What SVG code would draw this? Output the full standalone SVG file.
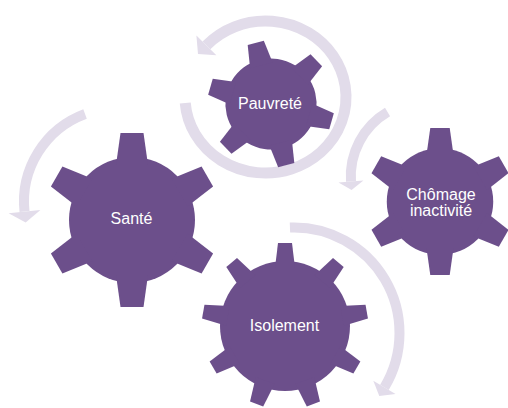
<svg xmlns="http://www.w3.org/2000/svg" xmlns:xlink="http://www.w3.org/1999/xlink" width="508" height="408" viewBox="0 0 508 408">
<style>
.gear{fill:#6C4F8B}
.lbl{fill:#FFFFFF;font-family:"Liberation Sans",Arial,sans-serif;font-size:16px;text-anchor:middle}
.band{fill:none;stroke:#E2DCEA}
.head{fill:#E2DCEA}
</style>
<defs>
<polygon id="t6" points="-16,-55 16,-55 11.5,-87 -11.5,-87"/>
<g id="g6">
<circle r="63"/>
<use href="#t6"/>
<use href="#t6" transform="rotate(60)"/>
<use href="#t6" transform="rotate(120)"/>
<use href="#t6" transform="rotate(180)"/>
<use href="#t6" transform="rotate(240)"/>
<use href="#t6" transform="rotate(300)"/>
</g>
<polygon id="t9" points="-10,-58 10,-58 7,-83 -7,-83"/>
<g id="g9">
<circle r="65"/>
<use href="#t9"/>
<use href="#t9" transform="rotate(40)"/>
<use href="#t9" transform="rotate(80)"/>
<use href="#t9" transform="rotate(120)"/>
<use href="#t9" transform="rotate(160)"/>
<use href="#t9" transform="rotate(200)"/>
<use href="#t9" transform="rotate(240)"/>
<use href="#t9" transform="rotate(280)"/>
<use href="#t9" transform="rotate(320)"/>
</g>
</defs>
<g id="connectors">
<path class="band" stroke-width="11" d="M185.25,102.96 A80.5,76 0 1 0 206.44,45.37"/>
<polygon class="head" points="196.4,35.6 216.4,55.2 198.0,53.9"/>
<path class="band" stroke-width="10" d="M85.04,113.97 A93.7,93.7 0 0 0 24.51,211.59"/>
<polygon class="head" points="40.4,209.9 8.6,213.3 25.66,222.53"/>
<path class="band" stroke-width="10" d="M387.54,112.02 A74.6,74.6 0 0 0 350.98,181.5"/>
<polygon class="head" points="363.45,180.6 338.5,182.4 351.6,190"/>
<path class="band" stroke-width="10" d="M289.95,227.58 A105.5,105.5 0 0 1 384.43,387.33"/>
<polygon class="head" points="395.57,394.03 373.29,380.63 379.28,395.9"/>
</g>
<g id="pauvrete">
<use href="#g6" class="gear" transform="translate(271,104) rotate(-14) scale(0.724)"/>
<text class="lbl" x="270" y="109">Pauvreté</text>
</g>
<g id="sante">
<use href="#g6" class="gear" transform="translate(132,220)"/>
<text class="lbl" x="131.5" y="224">Santé</text>
</g>
<g id="chomage">
<use href="#g6" class="gear" transform="translate(440,201.5) scale(0.845)"/>
<text class="lbl" x="441" y="200">Chômage</text>
<text class="lbl" x="441" y="216">inactivité</text>
</g>
<g id="isolement">
<use href="#g9" class="gear" transform="translate(285,326)"/>
<text class="lbl" x="284.5" y="331">Isolement</text>
</g>
</svg>
